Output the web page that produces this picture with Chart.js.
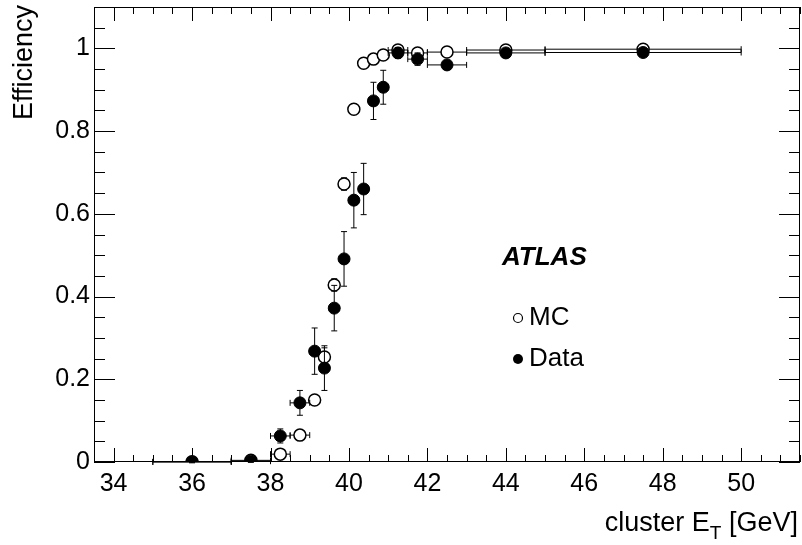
<!DOCTYPE html>
<html><head><meta charset="utf-8">
<script src="https://cdn.jsdelivr.net/npm/chart.js@4"></script>
<style>html,body{margin:0;padding:0;background:#fff}#wrap{width:802px;height:545px;position:relative}</style>
</head><body><div id="wrap"><canvas id="c" width="802" height="545"></canvas></div>
<script>
// bin centres (cluster E_T, GeV) and bin half-widths
const binCenters    = [36, 37.5, 38.25, 38.75, 39.125, 39.375, 39.625, 39.875, 40.125, 40.375, 40.625, 40.875, 41.25, 41.75, 42.5, 44, 47.5];
const binHalfWidths = [1, 0.5, 0.25, 0.25, 0.125, 0.125, 0.125, 0.125, 0.125, 0.125, 0.125, 0.125, 0.25, 0.25, 0.5, 1, 2.5];
// MC efficiency
const mcEff   = [0.0005, 0.004, 0.019, 0.065, 0.150, 0.254, 0.428, 0.672, 0.853, 0.964, 0.974, 0.984, 0.996, 0.989, 0.991, 0.996, 0.998];
const mcErr   = [0.001, 0.002, 0.004, 0.006, 0.008, 0.022, 0.015, 0.015, 0.008, 0.004, 0.004, 0.004, 0.003, 0.004, 0.003, 0.002, 0.002];
// Data efficiency
const dataEff = [0.0, 0.002, 0.063, 0.143, 0.268, 0.227, 0.372, 0.491, 0.633, 0.660, 0.873, 0.906, 0.989, 0.974, 0.960, 0.989, 0.990];
const dataErr = [0.002, 0.003, 0.017, 0.030, 0.056, 0.054, 0.055, 0.066, 0.067, 0.062, 0.045, 0.041, 0.013, 0.015, 0.010, 0.010, 0.005];
// axis ticks
const xTickLabels = [34, 36, 38, 40, 42, 44, 46, 48, 50];
const yTickLabels = [0, 0.2, 0.4, 0.6, 0.8, 1];
const xMinorStep = 0.5, yMinorStep = 0.05;
const xRange = [33.5, 51.5], yRange = [0, 1.1];

const FONT = '"Liberation Sans", Arial, Helvetica, sans-serif';

const errorBars = {
  id: 'errorBars',
  beforeDatasetDraw(chart, args) {
    const ds = chart.data.datasets[args.index];
    const ctx = chart.ctx, xs = chart.scales.x, ys = chart.scales.y;
    ctx.save();
    ctx.strokeStyle = '#000'; ctx.lineWidth = 1;
    const cap = 3;
    ds.data.forEach((p, i) => {
      const px = xs.getPixelForValue(p.x), py = ys.getPixelForValue(p.y);
      const x1 = xs.getPixelForValue(p.x - ds.errX[i]), x2 = xs.getPixelForValue(p.x + ds.errX[i]);
      const y1 = ys.getPixelForValue(p.y - ds.errY[i]), y2 = ys.getPixelForValue(Math.min(p.y + ds.errY[i], 1.1));
      ctx.beginPath();
      ctx.moveTo(x1, py); ctx.lineTo(x2, py);
      ctx.moveTo(x1, py - cap); ctx.lineTo(x1, py + cap);
      ctx.moveTo(x2, py - cap); ctx.lineTo(x2, py + cap);
      ctx.moveTo(px, y1); ctx.lineTo(px, y2);
      ctx.moveTo(px - cap, y1); ctx.lineTo(px + cap, y1);
      ctx.moveTo(px - cap, y2); ctx.lineTo(px + cap, y2);
      ctx.stroke();
    });
    ctx.restore();
  }
};

const frameTicks = {
  id: 'frameTicks',
  beforeDatasetsDraw(chart) {
    const ctx = chart.ctx, a = chart.chartArea, xs = chart.scales.x, ys = chart.scales.y;
    ctx.save();
    ctx.strokeStyle = '#000'; ctx.lineWidth = 1;
    ctx.strokeRect(a.left + 0.5, a.top + 0.5, a.right - a.left - 1, a.bottom - a.top - 1);
    ctx.beginPath();
    const xMaj = 14, xMin = 7, yMaj = 21, yMin = 11;
    for (let v = xRange[0]; v <= xRange[1] + 1e-9; v += xMinorStep) {
      const isMaj = xTickLabels.some(t => Math.abs(t - v) < 1e-6);
      const len = isMaj ? xMaj : xMin;
      const px = Math.round(xs.getPixelForValue(v)) + 0.5;
      ctx.moveTo(px, a.bottom); ctx.lineTo(px, a.bottom - len);
      ctx.moveTo(px, a.top); ctx.lineTo(px, a.top + len);
    }
    for (let v = yRange[0]; v <= yRange[1] + 1e-9; v += yMinorStep) {
      const isMaj = yTickLabels.some(t => Math.abs(t - v) < 1e-6);
      const len = isMaj ? yMaj : yMin;
      const py = Math.round(ys.getPixelForValue(v)) + 0.5;
      ctx.moveTo(a.left, py); ctx.lineTo(a.left + len, py);
      ctx.moveTo(a.right, py); ctx.lineTo(a.right - len, py);
    }
    ctx.stroke();
    ctx.restore();
  },
  afterDraw(chart) {
    const ctx = chart.ctx;
    ctx.save();
    ctx.fillStyle = '#000';
    // x title, right aligned
    const big = '27px ' + FONT, small = '19px ' + FONT;
    ctx.font = big;
    const w1 = ctx.measureText('cluster E').width;
    const w3 = ctx.measureText(' [GeV]').width;
    ctx.font = small;
    const w2 = ctx.measureText('T').width;
    const right = 798, base = 531;
    let x = right - w1 - w2 - w3;
    ctx.textBaseline = 'alphabetic'; ctx.textAlign = 'left';
    ctx.font = big; ctx.fillText('cluster E', x, base); x += w1;
    ctx.font = small; ctx.fillText('T', x, base + 8); x += w2;
    ctx.font = big; ctx.fillText(' [GeV]', x, base);
    // y title
    ctx.save();
    ctx.translate(32, 5);
    ctx.rotate(-Math.PI / 2);
    ctx.textAlign = 'right';
    ctx.font = big;
    ctx.fillText('Efficiency', 0, 0);
    ctx.restore();
    // ATLAS label + legend
    ctx.font = 'bold italic 26px ' + FONT;
    ctx.textAlign = 'left'; ctx.textBaseline = 'middle';
    ctx.fillText('ATLAS', 502, 258);
    ctx.font = '26px ' + FONT;
    ctx.fillText('MC', 529, 318);
    ctx.fillText('Data', 529, 359);
    ctx.lineWidth = 1.2;
    ctx.beginPath(); ctx.arc(518, 318, 4.5, 0, 2 * Math.PI);
    ctx.fillStyle = '#fff'; ctx.fill(); ctx.strokeStyle = '#000'; ctx.stroke();
    ctx.beginPath(); ctx.arc(518, 359, 5, 0, 2 * Math.PI);
    ctx.fillStyle = '#000'; ctx.fill();
    ctx.restore();
  }
};

const mk = (vals) => binCenters.map((x, i) => ({ x, y: vals[i] }));
const zeroPad = s => { s.paddingTop = 0; s.paddingBottom = 0; s.paddingLeft = 0; s.paddingRight = 0; };

new Chart(document.getElementById('c'), {
  type: 'scatter',
  data: {
    datasets: [
      { label: 'Data', data: mk(dataEff), errX: binHalfWidths, errY: dataErr, order: 0,
        pointRadius: 6, pointHoverRadius: 6, backgroundColor: '#000', borderColor: '#000', borderWidth: 1 },
      { label: 'MC', data: mk(mcEff), errX: binHalfWidths, errY: mcErr, order: 1,
        pointRadius: 6, pointHoverRadius: 6, backgroundColor: '#fff', borderColor: '#000', borderWidth: 1.5 }
    ]
  },
  options: {
    responsive: false, animation: false, devicePixelRatio: 1,
    layout: { autoPadding: false, padding: { top: 7, right: 2, left: 0, bottom: 0 } },
    plugins: { legend: { display: false }, tooltip: { enabled: false } },
    scales: {
      x: {
        type: 'linear', min: xRange[0], max: xRange[1],
        grid: { display: false, drawTicks: false }, border: { display: false },
        afterBuildTicks: s => { s.ticks = xTickLabels.map(v => ({ value: v })); },
        afterFit: s => { s.height = 83; zeroPad(s); },
        ticks: { padding: 7, color: '#000', font: { family: FONT, size: 25 }, maxRotation: 0, autoSkip: false,
          callback: v => String(v) }
      },
      y: {
        type: 'linear', min: yRange[0], max: yRange[1],
        grid: { display: false, drawTicks: false }, border: { display: false },
        afterBuildTicks: s => { s.ticks = yTickLabels.map(v => ({ value: v })); },
        afterFit: s => { s.width = 94; zeroPad(s); },
        ticks: { padding: 4, color: '#000', font: { family: FONT, size: 25 }, autoSkip: false,
          callback: v => String(v) }
      }
    }
  },
  plugins: [errorBars, frameTicks]
});
</script>
</body></html>
